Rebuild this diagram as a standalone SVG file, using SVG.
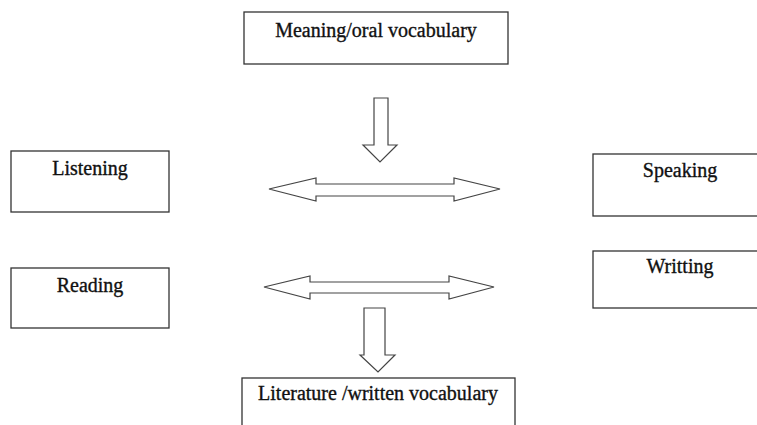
<svg xmlns="http://www.w3.org/2000/svg" width="757" height="425" viewBox="0 0 757 425">
<style>
.box{fill:#fff;stroke:#333;stroke-width:1.3}
.lbl{font-family:"Liberation Serif","Times New Roman",serif;font-size:20px;fill:#111;stroke:#111;stroke-width:0.35;text-anchor:middle}
.arr{fill:#fff;stroke:#444;stroke-width:1.2;stroke-linejoin:miter}
</style>
<rect width="757" height="425" fill="#fff"/>
<g id="meaning">
<rect class="box" x="244" y="12" width="264" height="52"/>
<text class="lbl" x="376" y="37">Meaning/oral vocabulary</text>
</g>
<g id="listening">
<rect class="box" x="11" y="151" width="158" height="61"/>
<text class="lbl" x="90" y="175">Listening</text>
</g>
<g id="reading">
<rect class="box" x="11" y="268" width="158" height="60"/>
<text class="lbl" x="90" y="292">Reading</text>
</g>
<g id="speaking">
<rect class="box" x="593" y="154" width="170" height="62"/>
<text class="lbl" x="680" y="177">Speaking</text>
</g>
<g id="writting">
<rect class="box" x="593" y="251" width="170" height="57"/>
<text class="lbl" x="680" y="273">Writting</text>
</g>
<g id="literature">
<rect class="box" x="242" y="378" width="273" height="60"/>
<text class="lbl" x="378" y="400">Literature /written vocabulary</text>
</g>
<g id="connectors">
<path class="arr" d="M374,98 H388 V145 H397 L380,162 L363,145 H374 Z"/>
<path class="arr" d="M269,189 L316,178 V184 H454 V178 L500,189 L454,201 V196 H316 V201 Z"/>
<path class="arr" d="M264,287 L310,276 V282 H449 V276 L494,287 L449,299 V293 H310 V299 Z"/>
<path class="arr" d="M364,308 H385 V355 H395 L378,372 L360,355 H364 Z"/>
</g>
</svg>
